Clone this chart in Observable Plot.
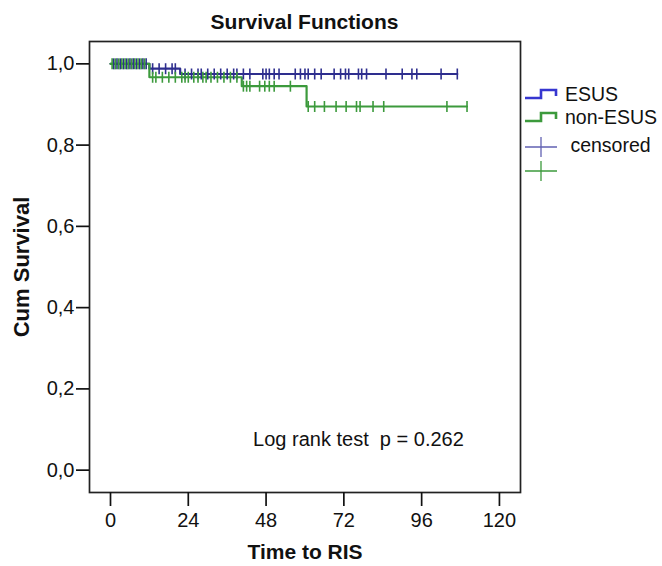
<!DOCTYPE html>
<html>
<head>
<meta charset="utf-8">
<script src="https://cdn.jsdelivr.net/npm/d3@7"></script>
<script src="https://cdn.jsdelivr.net/npm/@observablehq/plot@0.6"></script>
<style>
  body { margin: 0; background: #fff; }
  #wrap { position: relative; width: 662px; height: 566px; font-family: "Liberation Sans", Arial, sans-serif; }
  #title { position: absolute; left: 89px; width: 431px; top: 9px; text-align: center; font-weight: bold; font-size: 21px; line-height: 26px; color: #111; }
  #legend { position: absolute; left: 524px; top: 0; font-size: 19.5px; color: #111; }
  #legend .row { position: absolute; left: 0; height: 24px; display: flex; align-items: center; white-space: pre; }
  #legend svg { margin-right: 7px; }
</style>
</head>
<body>
<div id="wrap">
  <div id="title">Survival Functions</div>
  <div id="chart"></div>
  <div id="legend"></div>
</div>
<script>
// ---- data ----
const xTicks = [0, 24, 48, 72, 96, 120];
const yTicks = [0, 0.2, 0.4, 0.6, 0.8, 1.0];

const esusStepTime = [0, 12, 21.5, 107];
const esusStepSurv = [1.0, 0.988, 0.975, 0.975];
const nonStepTime = [0, 12, 40.5, 60.5, 110];
const nonStepSurv = [1.0, 0.967, 0.945, 0.895, 0.895];

const esusCensor = [1,2,3,4,5,6,7,8,9,10,11,13,15,17,19,20,23,25,27,28,30,32,34,36,38,39,41,43,47,48,49,50.5,52,57,58.6,60,61,63,65,69,71,72.5,73.5,76.5,77.5,79,85,90,93,94.5,102,107];
const nonCensor = [0.5,1.5,2.5,3.5,4.5,5.5,6.5,7.5,8.5,9.5,10.5,13,14,16,18,20,22,23,24,25.7,27,28.5,29.5,31,33,35,37,39,41,42,43,46,47.6,49,50.5,55.5,61,63,66,69.6,72.7,75.9,77,81,84.3,103.8,110];

const groups = ["ESUS", "non-ESUS"];
const annotation = "Log rank test\u00a0 p = 0.262";
const annotationAt = {t: 76.5, s: 0.075};

// ---- styling ----
const blue = "#2e2e8e";
const green = "#3c9a3c";
const legendBlue = "#3636d0";

const steps = (ts, ss, g) => ts.map((t, i) => ({t, s: ss[i], g}));
const levelAt = (ts, ss, t) => { let v = ss[0]; ts.forEach((tt, i) => { if (tt <= t) v = ss[i]; }); return v; };
const censors = (cs, ts, ss, g) => cs.map(t => ({t, s: levelAt(ts, ss, t), g}));

const esusLine = steps(esusStepTime, esusStepSurv, groups[0]);
const nonLine = steps(nonStepTime, nonStepSurv, groups[1]);
const esusCens = censors(esusCensor, esusStepTime, esusStepSurv, groups[0]);
const nonCens = censors(nonCensor, nonStepTime, nonStepSurv, groups[1]);

const vtick = { draw(ctx, size) { const r = Math.sqrt(size / Math.PI); ctx.moveTo(0, -r); ctx.lineTo(0, r); } };

const chart = Plot.plot({
  width: 662, height: 566,
  marginLeft: 89, marginRight: 142, marginTop: 41, marginBottom: 74,
  style: {fontFamily: "'Liberation Sans', Arial, sans-serif", fontSize: "20px", color: "#111", background: "white", overflow: "visible"},
  x: {domain: [-6.48, 126.5]},
  y: {domain: [-0.055, 1.055]},
  marks: [
    Plot.frame({stroke: "#222", strokeWidth: 1.7}),
    Plot.axisX(xTicks, {anchor: "bottom", tickSize: 14, tickPadding: 6, strokeWidth: 1.7, fontSize: 20, label: null}),
    Plot.axisY(yTicks, {anchor: "left", tickSize: 13, tickPadding: 2, strokeWidth: 1.7, fontSize: 20, label: null,
      tickFormat: d => d.toFixed(1).replace(".", ",")}),
    Plot.text(["Time to RIS"], {frameAnchor: "bottom", dy: 60, lineAnchor: "middle", textAnchor: "middle", fontWeight: "bold", fontSize: 21}),
    Plot.text(["Cum Survival"], {frameAnchor: "left", dx: -68, rotate: -90, textAnchor: "middle", lineAnchor: "middle", fontWeight: "bold", fontSize: 22}),
    Plot.line(esusLine, {x: "t", y: "s", curve: "step-after", stroke: blue, strokeWidth: 2.2}),
    Plot.line(nonLine, {x: "t", y: "s", curve: "step-after", stroke: green, strokeWidth: 2.2}),
    Plot.dot(esusCens, {x: "t", y: "s", symbol: vtick, r: 5.5, stroke: blue, fill: "none", strokeWidth: 1.6}),
    Plot.dot(nonCens, {x: "t", y: "s", symbol: vtick, r: 5.5, stroke: green, fill: "none", strokeWidth: 1.6}),
    Plot.text([annotation], {x: () => annotationAt.t, y: () => annotationAt.s, fontSize: 20})
  ]
});
document.getElementById("chart").appendChild(chart);

// ---- legend ----
const legendItems = [
  {kind: "step", color: legendBlue, label: groups[0], top: 82},
  {kind: "step", color: green, label: groups[1], top: 105},
  {kind: "plus", color: "#6262b2", label: " censored", top: 133},
  {kind: "plus", color: green, label: "", top: 157}
];
const leg = d3.select("#legend");
legendItems.forEach(it => {
  const row = leg.append("div").attr("class", "row").style("top", it.top + "px");
  const s = row.append("svg").attr("width", 34).attr("height", 24);
  if (it.kind === "step") {
    s.append("path").attr("d", "M1,16H17V8H32V14").attr("fill", "none").attr("stroke", it.color).attr("stroke-width", 2.6);
  } else {
    s.append("path").attr("d", "M1,14H33M17,4V24").attr("fill", "none").attr("stroke", it.color).attr("stroke-width", 1.3);
  }
  row.append("span").text(it.label);
});
</script>
</body>
</html>
